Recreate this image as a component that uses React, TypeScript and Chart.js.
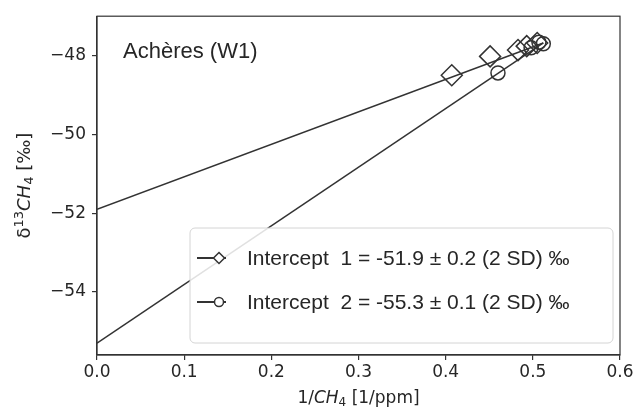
import React, { useEffect, useRef } from "react";
import { Chart, registerables } from "chart.js";

Chart.register(...registerables);

// ---- data ----
const series1X = [0.407, 0.451, 0.483, 0.493, 0.505];
const series1Y = [-48.5, -48.02, -47.86, -47.76, -47.68];
const series2X = [0.46, 0.498, 0.507, 0.512];
const series2Y = [-48.44, -47.8, -47.66, -47.7];
const intercepts = [-51.9, -55.3];
const fitEndX = 0.512;
const fitEndY = [-47.68, -47.68];
const legendLabels = [
  "Intercept  1 = -51.9 ± 0.2 (2 SD) ‰",
  "Intercept  2 = -55.3 ± 0.1 (2 SD) ‰",
];
const siteLabel = "Achères (W1)";
const xTicks = [0, 0.1, 0.2, 0.3, 0.4, 0.5, 0.6];
const yTicks = [-54, -52, -50, -48];

const INK = "#333333";
const TICK_FONT = "DejaVu Sans";
const TEXT_FONT = "Liberation Sans, Arial, sans-serif";

type Seg = { t: string; font: string; dy?: number };

function drawRich(
  ctx: CanvasRenderingContext2D,
  segs: Seg[],
  cx: number,
  cy: number,
  rotate: number
) {
  ctx.save();
  ctx.translate(cx, cy);
  ctx.rotate(rotate);
  let total = 0;
  const widths = segs.map((s) => {
    ctx.font = s.font;
    const w = ctx.measureText(s.t).width;
    total += w;
    return w;
  });
  let x = -total / 2;
  ctx.textBaseline = "alphabetic";
  ctx.textAlign = "left";
  ctx.fillStyle = "#262626";
  segs.forEach((s, i) => {
    ctx.font = s.font;
    ctx.fillText(s.t, x, s.dy || 0);
    x += widths[i];
  });
  ctx.restore();
}

const decorPlugin = {
  id: "decor",
  afterDraw(chart: any) {
    const ctx: CanvasRenderingContext2D = chart.ctx;
    const a = chart.chartArea;
    ctx.save();
    // frame
    ctx.strokeStyle = INK;
    ctx.lineWidth = 1.2;
    ctx.strokeRect(a.left, a.top, a.right - a.left, a.bottom - a.top);

    // site label
    ctx.fillStyle = "#262626";
    ctx.font = `22px ${TEXT_FONT}`;
    ctx.textAlign = "left";
    ctx.textBaseline = "alphabetic";
    ctx.fillText(siteLabel, a.left + 26, a.top + 42);

    // legend box
    const bx = 190, by = 228, bw = 423, bh = 115, r = 5;
    ctx.beginPath();
    ctx.moveTo(bx + r, by);
    ctx.lineTo(bx + bw - r, by);
    ctx.arcTo(bx + bw, by, bx + bw, by + r, r);
    ctx.lineTo(bx + bw, by + bh - r);
    ctx.arcTo(bx + bw, by + bh, bx + bw - r, by + bh, r);
    ctx.lineTo(bx + r, by + bh);
    ctx.arcTo(bx, by + bh, bx, by + bh - r, r);
    ctx.lineTo(bx, by + r);
    ctx.arcTo(bx, by, bx + r, by, r);
    ctx.closePath();
    ctx.fillStyle = "rgba(255,255,255,0.85)";
    ctx.fill();
    ctx.strokeStyle = "#d4d4d4";
    ctx.lineWidth = 1;
    ctx.stroke();

    const rows = [258, 302];
    legendLabels.forEach((lab, i) => {
      const y = rows[i];
      ctx.strokeStyle = INK;
      ctx.lineWidth = 2;
      ctx.beginPath();
      ctx.moveTo(197, y);
      ctx.lineTo(226, y);
      ctx.stroke();
      ctx.fillStyle = "#ffffff";
      ctx.lineWidth = 1.5;
      ctx.beginPath();
      if (i === 0) {
        const s = 5.5;
        ctx.moveTo(219, y - s);
        ctx.lineTo(219 + s, y);
        ctx.lineTo(219, y + s);
        ctx.lineTo(219 - s, y);
        ctx.closePath();
      } else {
        ctx.arc(219, y, 4.5, 0, Math.PI * 2);
      }
      ctx.fill();
      ctx.stroke();
      ctx.fillStyle = "#262626";
      ctx.font = `21px ${TEXT_FONT}`;
      ctx.textAlign = "left";
      ctx.textBaseline = "middle";
      ctx.fillText(lab, 247, y + 1);
    });

    // axis titles
    const big = `17px ${TICK_FONT}`;
    const bigIt = `italic 17px ${TICK_FONT}`;
    const small = `12px ${TICK_FONT}`;
    drawRich(
      ctx,
      [
        { t: "1/", font: big },
        { t: "CH", font: bigIt },
        { t: "4", font: small, dy: 3 },
        { t: " [1/ppm]", font: big },
      ],
      (a.left + a.right) / 2,
      403,
      0
    );
    const ybig = `18px ${TICK_FONT}`;
    const ybigIt = `italic 18px ${TICK_FONT}`;
    const ysmall = `13px ${TICK_FONT}`;
    drawRich(
      ctx,
      [
        { t: "δ", font: ybig },
        { t: "13", font: ysmall, dy: -7 },
        { t: "CH", font: ybigIt },
        { t: "4", font: ysmall, dy: 3 },
        { t: " [‰]", font: ybig },
      ],
      30,
      (a.top + a.bottom) / 2,
      -Math.PI / 2
    );
    ctx.restore();
  },
};

export default function App() {
  const ref = useRef<HTMLCanvasElement | null>(null);
  useEffect(() => {
    if (!ref.current) return;
    const pts = (xs: number[], ys: number[]) => xs.map((x, i) => ({ x, y: ys[i] }));
    const chart = new Chart(ref.current, {
      type: "scatter",
      data: {
        datasets: [
          {
            label: "pts1",
            data: pts(series1X, series1Y),
            pointStyle: "rectRot",
            pointRadius: 10.5,
            pointBorderWidth: 1.5,
            borderColor: INK,
            backgroundColor: "rgba(255,255,255,0)",
            order: 0,
          },
          {
            label: "pts2",
            data: pts(series2X, series2Y),
            pointStyle: "circle",
            pointRadius: 7,
            pointBorderWidth: 1.5,
            borderColor: INK,
            backgroundColor: "rgba(255,255,255,0)",
            order: 0,
          },
          {
            label: "fit1",
            type: "line",
            data: [
              { x: 0, y: intercepts[0] },
              { x: fitEndX, y: fitEndY[0] },
            ],
            borderColor: INK,
            borderWidth: 1.5,
            pointRadius: 0,
            showLine: true,
            order: 1,
          } as any,
          {
            label: "fit2",
            type: "line",
            data: [
              { x: 0, y: intercepts[1] },
              { x: fitEndX, y: fitEndY[1] },
            ],
            borderColor: INK,
            borderWidth: 1.5,
            pointRadius: 0,
            showLine: true,
            order: 1,
          } as any,
        ],
      },
      options: {
        responsive: false,
        animation: false,
        devicePixelRatio: 1,
        layout: { padding: { top: 13, right: 18, left: 0, bottom: 0 } },
        plugins: { legend: { display: false }, tooltip: { enabled: false } },
        scales: {
          x: {
            type: "linear",
            min: 0,
            max: 0.6,
            afterBuildTicks: (s: any) => {
              s.ticks = xTicks.map((v) => ({ value: v }));
            },
            afterFit: (s: any) => {
              s.height = 57;
            },
            ticks: {
              callback: (v: any) => Number(v).toFixed(1),
              font: { family: TICK_FONT, size: 17 },
              color: "#262626",
              padding: 2,
              maxRotation: 0,
              autoSkip: false,
            },
            grid: {
              display: true,
              drawOnChartArea: false,
              drawTicks: true,
              tickLength: 5,
              color: INK,
              lineWidth: 1.2,
            },
            border: { display: true, color: INK, width: 1.2 },
          },
          y: {
            type: "linear",
            min: -55.6,
            max: -47.0,
            afterBuildTicks: (s: any) => {
              s.ticks = yTicks.map((v) => ({ value: v }));
            },
            afterFit: (s: any) => {
              s.width = 97;
            },
            ticks: {
              callback: (v: any) => (v < 0 ? "\u2212" : "") + Math.abs(Number(v)),
              font: { family: TICK_FONT, size: 17 },
              color: "#262626",
              padding: 6,
              autoSkip: false,
            },
            grid: {
              display: true,
              drawOnChartArea: false,
              drawTicks: true,
              tickLength: 5,
              color: INK,
              lineWidth: 1.2,
            },
            border: { display: true, color: INK, width: 1.2 },
          },
        },
      },
      plugins: [decorPlugin],
    });
    return () => chart.destroy();
  }, []);
  return (
    <div style={{ position: "fixed", left: 0, top: 0, width: 638, height: 412, background: "#fff" }}>
      <canvas ref={ref} width={638} height={412} style={{ width: 638, height: 412 }} />
    </div>
  );
}
